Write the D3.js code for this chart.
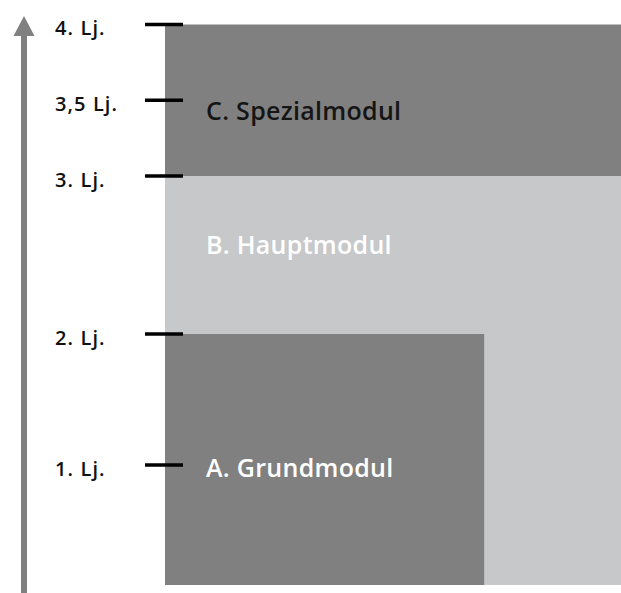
<!DOCTYPE html>
<html>
<head>
<meta charset="utf-8">
<script src="https://cdn.jsdelivr.net/npm/d3@7"></script>
<style>
  body { margin: 0; background: #fff; }
  svg { display: block; }
  .lvl { font-family: "Open Sans", sans-serif; font-weight: 600; font-size: 20px; letter-spacing: 1.1px; fill: #111; }
  .mod { font-family: "Open Sans", sans-serif; font-weight: 600; font-size: 25px; letter-spacing: 0.3px; }
</style>
</head>
<body>
<div id="chart"></div>
<script>
// years of training (Lehrjahre) on the vertical axis
const levels = [1, 2, 3, 3.5, 4];
const levelLabels = ["1. Lj.", "2. Lj.", "3. Lj.", "3,5 Lj.", "4. Lj."];

// modules: where they start / end (in Lj.) and how far they reach to the right
const modules = ["B. Hauptmodul", "A. Grundmodul", "C. Spezialmodul"];
const moduleStart = [0, 0, 3];
const moduleEnd = [3, 2, 4];
const moduleReach = [1, 0.7, 1];
const moduleLabelAt = [2.58, 1, 3.45];

const width = 621;
const height = 593;

const yScale = d3.scaleLinear()
  .domain([0, 1, 2, 3, 4])
  .range([585, 465, 334, 176, 24.5]);

const xScale = d3.scaleLinear()
  .domain([0, 1])
  .range([165, 621]);

const fillFor = d => d.name.startsWith("B") ? "#c7c8ca" : "#808080";
const textFor = d => d.name.startsWith("C") ? "#151515" : "#ffffff";

const svg = d3.select("#chart").append("svg")
  .attr("width", width)
  .attr("height", height);

const mods = modules.map((name, i) => ({
  name: name,
  start: moduleStart[i],
  end: moduleEnd[i],
  reach: moduleReach[i],
  labelAt: moduleLabelAt[i]
}));

svg.selectAll("rect.module").data(mods)
  .enter().append("rect")
    .attr("class", "module")
    .attr("x", xScale(0))
    .attr("y", d => yScale(d.end))
    .attr("width", d => xScale(d.reach) - xScale(0))
    .attr("height", d => yScale(d.start) - yScale(d.end))
    .attr("fill", fillFor);

svg.selectAll("text.mod").data(mods)
  .enter().append("text")
    .attr("class", "mod")
    .attr("x", xScale(0) + 41)
    .attr("y", d => yScale(d.labelAt))
    .attr("dy", 12)
    .attr("fill", textFor)
    .text(d => d.name);

// arrow on the left
const arrowX = 24;
svg.append("line")
  .attr("x1", arrowX).attr("x2", arrowX)
  .attr("y1", 34).attr("y2", height)
  .attr("stroke", "#808080")
  .attr("stroke-width", 6);

svg.append("path")
  .attr("d", `M${arrowX},16 L${arrowX + 10.5},36 L${arrowX - 10.5},36 Z`)
  .attr("fill", "#808080");

// level ticks + labels
const lv = levels.map((v, i) => ({ v: v, label: levelLabels[i] }));

svg.selectAll("line.tick").data(lv)
  .enter().append("line")
    .attr("class", "tick")
    .attr("x1", 145).attr("x2", 183)
    .attr("y1", d => yScale(d.v))
    .attr("y2", d => yScale(d.v))
    .attr("stroke", "#000")
    .attr("stroke-width", 3.5);

svg.selectAll("text.lvl").data(lv)
  .enter().append("text")
    .attr("class", "lvl")
    .attr("x", 55)
    .attr("y", d => yScale(d.v))
    .attr("dy", 10.7)
    .text(d => d.label);
</script>
</body>
</html>
